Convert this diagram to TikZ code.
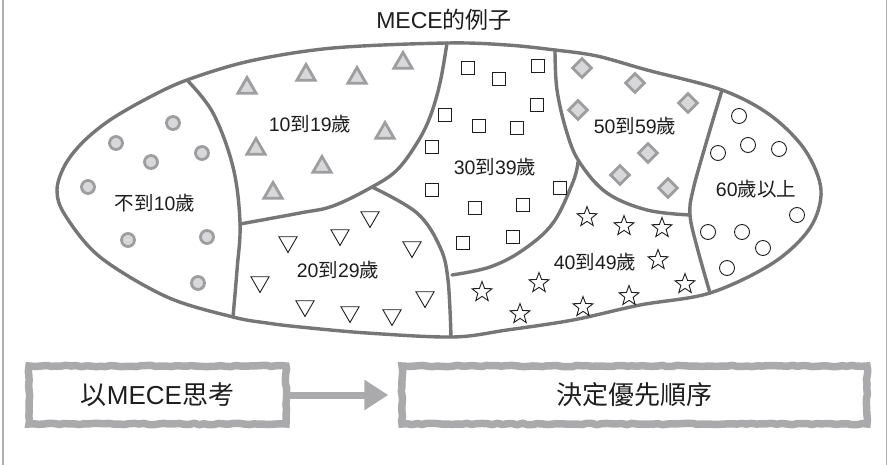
\documentclass[tikz,border=0pt]{standalone}
\usepackage{fontspec}
\setmainfont{Liberation Sans}
\newfontfamily\cjk{Noto Sans CJK TC}
\newcommand\zh[1]{{\cjk #1}}
\usetikzlibrary{shapes.geometric,arrows.meta,decorations.pathmorphing}
\definecolor{edgegray}{RGB}{118,118,118}
\definecolor{symgray}{RGB}{158,158,160}
\definecolor{symfill}{RGB}{216,216,218}
\definecolor{boxgray}{RGB}{170,170,173}
\definecolor{framegray}{RGB}{175,175,175}
\definecolor{ink}{RGB}{30,30,30}
\begin{document}
\begin{tikzpicture}[x=1pt,y=-1pt,
  region/.style={draw=edgegray,line width=3.4pt,line join=round,line cap=round},
  gdot/.style={circle,draw=symgray,fill=symfill,line width=2.8pt,minimum size=13pt,inner sep=0pt},
  gtri/.style={regular polygon,regular polygon sides=3,draw=symgray,fill=symfill,line width=2.8pt,minimum size=21pt,inner sep=0pt},
  vtri/.style={regular polygon,regular polygon sides=3,shape border rotate=180,draw=ink,line width=0.9pt,minimum size=21pt,inner sep=0pt},
  sqbox/.style={rectangle,draw=ink,line width=0.9pt,minimum size=13pt,inner sep=0pt},
  gdia/.style={diamond,draw=symgray,fill=symfill,line width=2.8pt,minimum size=20pt,inner sep=0pt},
  ocirc/.style={circle,draw=ink,line width=0.9pt,minimum size=15pt,inner sep=0pt},
  ostar/.style={star,star points=5,star point ratio=2.4,draw=ink,line width=0.9pt,minimum size=21pt,inner sep=0pt},
  lbl/.style={font=\fontsize{19.5}{19.5}\selectfont,text=ink,inner sep=0pt},
  bigbox/.style={draw=boxgray,line width=7.5pt,decorate,decoration={random steps,segment length=5pt,amplitude=0.7pt},
    minimum height=58pt,inner sep=0pt,font=\fontsize{26}{26}\selectfont,text=ink},
  flow/.style={draw=boxgray,line width=7pt,-{Triangle[length=24pt,width=29pt]}}
]
\pgfmathsetseed{7}
\useasboundingbox (0,0) rectangle (888,465);
\fill[white] (0,0) rectangle (888,465);
\draw[framegray,line width=1.5pt] (3,0) -- (3,465) (886.5,0) -- (886.5,465);

% title
\node[font=\fontsize{23}{23}\selectfont,text=ink,inner sep=0pt] (title) at (444,20) {MECE\zh{的例子}};

% outer boundary
\draw[region] plot[smooth cycle, tension=0.55] coordinates {
 (187,80) (250,61) (333,48) (447,43) (507,45) (555,50) (597,56) (647,70) (722,90)
 (770,115) (805,150) (821,190) (810,228) (773,263) (710,293)
 (640,305) (573,320) (507,330) (453,337) (367,333) (300,327) (267,323) (233,317)
 (167,297) (100,257) (65,215) (57,190) (65,165) (83,142) (110,120) (148,98)};

% dividers
\draw[region] plot[smooth, tension=0.6] coordinates {(187,80) (213,113) (233,167) (240,223) (237,270) (233,317)};
\draw[region] plot[smooth, tension=0.6] coordinates {(240,224) (300,213) (333,206) (372,187) (397,170) (417,143) (430,117) (440,83) (447,43)};
\draw[region] plot[smooth, tension=0.6] coordinates {(372,187) (417,213) (440,247) (448,280) (451,337)};
\draw[region] plot[smooth, tension=0.6] coordinates {(555,50) (557,90) (567,133) (580,163) (607,193) (647,210) (690,215)};
\draw[region] plot[smooth, tension=0.6] coordinates {(578,162) (573,182) (553,223) (523,250) (490,267) (452,275)};
\draw[region] plot[smooth, tension=0.6] coordinates {(722,90) (707,140) (693,190) (690,215) (697,247) (710,293)};

% under 10
\foreach \x/\y [count=\i] in {173/123,116/143,202/153,151/162,88/187,128/240,207/237,198/283}
  \node[gdot] (c\i) at (\x,\y) {};
% 10-19
\foreach \x/\y [count=\i] in {247/88,306/75,357/78,403/63,385/133,256/149,322/167,273/193}
  \node[gtri] (t\i) at (\x,\y) {};
% 20-29
\foreach \x/\y [count=\i] in {370/217,340/235,288/242,412/247,260/282,425/297,305/306,350/312,392/315}
  \node[vtri] (v\i) at (\x,\y) {};
% 30-39
\foreach \x/\y [count=\i] in {468/68,499/79,538/66,445/115,537/105,479/126,517/128,432/147,432/190,560/188,475/208,523/205,463/243,513/237}
  \node[sqbox] (q\i) at (\x,\y) {};
% 40-49
\foreach \x/\y [count=\i] in {587/217,624/226,662/228,658/260,685/284,629/296,583/307,539/283,482/292,520/314}
  \node[ostar] (s\i) at (\x,\y) {};
% 50-59
\foreach \x/\y [count=\i] in {582/68,635/83,578/110,688/103,648/153,620/175,668/188}
  \node[gdia] (d\i) at (\x,\y) {};
% 60+
\foreach \x/\y [count=\i] in {739/116,748/145,779/149,718/153,797/215,708/232,742/232,763/248,727/268}
  \node[ocirc] (o\i) at (\x,\y) {};

% labels
\node[lbl] (l0) at (155,203) {\zh{不到}10\zh{歲}};
\node[lbl] (l1) at (310,124) {10\zh{到}19\zh{歲}};
\node[lbl] (l2) at (338,270) {20\zh{到}29\zh{歲}};
\node[lbl] (l3) at (495,167) {30\zh{到}39\zh{歲}};
\node[lbl] (l4) at (595,262) {40\zh{到}49\zh{歲}};
\node[lbl] (l5) at (635,126) {50\zh{到}59\zh{歲}};
\node[lbl] (l6) at (756,189) {60\zh{歲以上}};

% bottom flow
\node[bigbox,minimum width=257pt] (b1) at (157.5,395) {\zh{以}MECE\zh{思考}};
\node[bigbox,minimum width=465pt] (b2) at (634.5,395) {\zh{決定優先順序}};
\draw[flow,shorten >=10pt] (b1) -- (b2);
\end{tikzpicture}
\end{document}
